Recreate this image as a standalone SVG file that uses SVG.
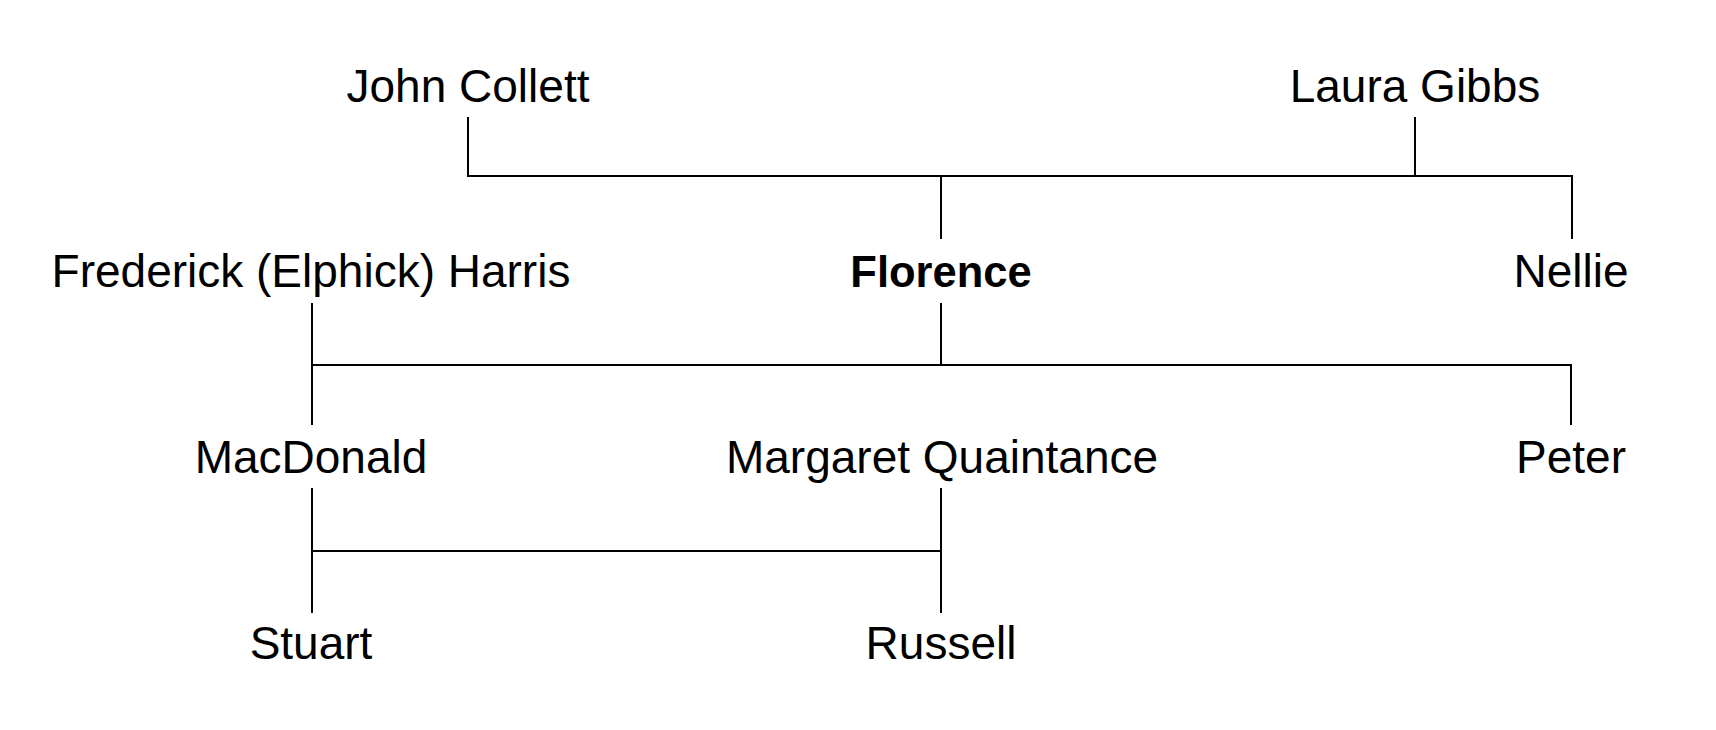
<svg xmlns="http://www.w3.org/2000/svg" width="1716" height="730" viewBox="0 0 1716 730">
<style>
text { font-family: "Liberation Sans", Arial, sans-serif; font-size: 46px; fill: #000; text-anchor: middle; }
.b { font-weight: bold; font-size: 43.5px; }
.c { stroke: #000; stroke-width: 2; fill: none; }
</style>
<rect width="1716" height="730" fill="#fff"/>
<g id="connectors">
<path class="c" d="M468 117 V176 H1572 V239"/>
<path class="c" d="M1415 117 V176"/>
<path class="c" d="M941 176 V239"/>
<path class="c" d="M941 303 V365"/>
<path class="c" d="M312 303 V425"/>
<path class="c" d="M312 365 H1571 V425"/>
<path class="c" d="M312 488 V613"/>
<path class="c" d="M941 488 V613"/>
<path class="c" d="M312 551 H941"/>
</g>
<g id="john"><text x="468" y="102">John Collett</text></g>
<g id="laura"><text x="1415" y="102">Laura Gibbs</text></g>
<g id="frederick"><text x="311" y="287">Frederick (Elphick) Harris</text></g>
<g id="florence"><text class="b" x="941" y="287">Florence</text></g>
<g id="nellie"><text x="1571" y="287">Nellie</text></g>
<g id="macdonald"><text x="311" y="473">MacDonald</text></g>
<g id="margaret"><text x="942" y="473">Margaret Quaintance</text></g>
<g id="peter"><text x="1571" y="473">Peter</text></g>
<g id="stuart"><text x="311" y="659">Stuart</text></g>
<g id="russell"><text x="941" y="659">Russell</text></g>
</svg>
